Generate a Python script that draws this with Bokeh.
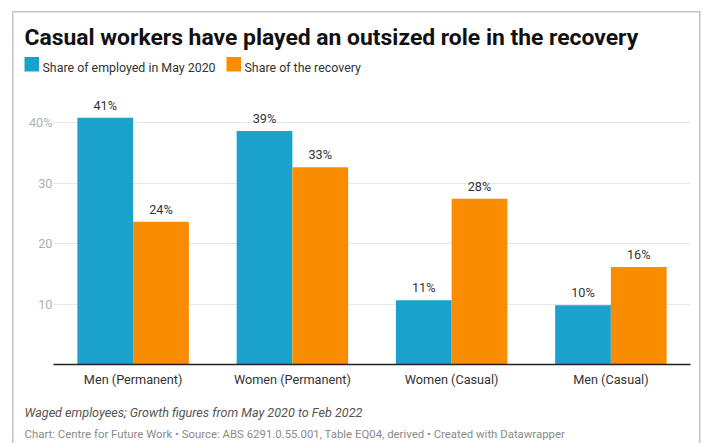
from bokeh.plotting import figure
from bokeh.layouts import column
from bokeh.models import ColumnDataSource, FactorRange, Range1d, FixedTicker, LabelSet
from bokeh.core.properties import value
from bokeh.transform import dodge
from bokeh.embed import file_html
from bokeh.resources import INLINE

# ---- data ----
categories = ["Men (Permanent)", "Women (Permanent)", "Women (Casual)", "Men (Casual)"]
employed_may_2020 = [40.8, 38.6, 10.6, 9.8]
share_of_recovery = [23.6, 32.6, 27.4, 16.1]
employed_labels = ["41%", "39%", "11%", "10%"]
recovery_labels = ["24%", "33%", "28%", "16%"]
series_names = ["Share of employed in May 2020", "Share of the recovery"]
y_ticks = [10, 20, 30, 40]
y_tick_labels = {10: "10", 20: "20", 30: "30", 40: "40%"}

title_text = "Casual workers have played an outsized role in the recovery"
note_text = "Waged employees; Growth figures from May 2020 to Feb 2022"
source_text = ("Chart: Centre for Future Work \u2022 Source: ABS 6291.0.55.001, Table EQ04, "
               "derived \u2022 Created with Datawrapper")

BLUE = "#1aa1cc"
ORANGE = "#f98c00"
FONT = "Roboto"
FRAME = "#c4c4c4"

W = 703
HEAD_H, MAIN_H, FOOT_H = 80, 315, 48
FL, FR = 53, 690          # frame left/right (px)
FT, FB = 10, 284          # frame top/bottom inside main figure (px)


def blank_fig(h):
    f = figure(width=W, height=h, x_range=Range1d(0, W), y_range=Range1d(h, 0),
               output_backend="svg", toolbar_location=None, min_border=0,
               x_axis_location=None, y_axis_location=None)
    f.grid.visible = False
    f.outline_line_color = None
    f.background_fill_color = None
    f.border_fill_color = None
    if "frame_align" in f.properties():
        f.frame_align = False
    return f


# ---- header: title + legend ----
head = blank_fig(HEAD_H)
head.text(x=[24], y=[37], text=[title_text], text_font=value(FONT),
          text_font_style="bold", text_font_size="22.9px", text_color="#111111",
          text_baseline="alphabetic")
leg_x = [24, 226]
head.quad(left=[leg_x[0], leg_x[1]], right=[leg_x[0] + 14.5, leg_x[1] + 14.5],
          top=[56.5, 56.5], bottom=[71, 71], fill_color=[BLUE, ORANGE], line_color=None)
head.text(x=[leg_x[0] + 18, leg_x[1] + 18], y=[66.5, 66.5], text=series_names,
          text_font=value(FONT), text_font_size="12.4px", text_color="#333333",
          text_baseline="alphabetic")

# ---- main chart ----
src = ColumnDataSource(dict(cat=categories, emp=employed_may_2020, rec=share_of_recovery,
                            emp_lab=employed_labels, rec_lab=recovery_labels))

p = figure(width=W, height=MAIN_H, x_range=FactorRange(*categories, range_padding=0),
           y_range=Range1d(0, (FB - FT) / 6.05), output_backend="svg",
           toolbar_location=None, min_border_left=FL, min_border_right=W - FR,
           min_border_top=FT, min_border_bottom=MAIN_H - FB)
p.outline_line_color = None
p.background_fill_color = None
p.border_fill_color = None

bw = 0.35
p.vbar(x=dodge("cat", -bw / 2, range=p.x_range), top="emp", width=bw, source=src,
       fill_color=BLUE, line_color=None)
p.vbar(x=dodge("cat", bw / 2, range=p.x_range), top="rec", width=bw, source=src,
       fill_color=ORANGE, line_color=None)

for col, lab, off in (("emp", "emp_lab", -bw / 2), ("rec", "rec_lab", bw / 2)):
    p.add_layout(LabelSet(x=dodge("cat", off, range=p.x_range), y=col, text=lab, source=src,
                          y_offset=5, text_align="center", text_baseline="bottom",
                          text_font=value(FONT), text_font_size=value("12.7px"),
                          text_color="#333333"))

p.yaxis.ticker = FixedTicker(ticks=y_ticks)
p.yaxis.major_label_overrides = y_tick_labels
p.yaxis.axis_line_color = None
p.yaxis.major_tick_line_color = None
p.yaxis.minor_tick_line_color = None
p.yaxis.major_tick_out = 0
p.yaxis.major_tick_in = 0
p.yaxis.major_label_text_color = "#b0b0b0"
p.yaxis.major_label_text_font = FONT
p.yaxis.major_label_text_font_size = "12.7px"
p.yaxis.major_label_standoff = 1

p.xaxis.axis_line_color = "#222222"
p.xaxis.axis_line_width = 1.5
p.xaxis.major_tick_line_color = None
p.xaxis.minor_tick_line_color = None
p.xaxis.major_tick_out = 0
p.xaxis.major_tick_in = 0
p.xaxis.major_label_text_color = "#333333"
p.xaxis.major_label_text_font = FONT
p.xaxis.major_label_text_font_size = "12.7px"
p.xaxis.major_label_standoff = 7

p.xgrid.grid_line_color = None
p.ygrid.grid_line_color = "#e6e6e6"
p.ygrid.ticker = FixedTicker(ticks=y_ticks)

# ---- footer: notes ----
foot = blank_fig(FOOT_H)
foot.text(x=[24], y=[16.5], text=[note_text], text_font=value(FONT),
          text_font_style="italic", text_font_size="12.6px", text_color="#555555",
          text_baseline="alphabetic")
foot.text(x=[24], y=[38], text=[source_text], text_font=value(FONT),
          text_font_size="11.4px", text_color="#8a8a8a", text_baseline="alphabetic")

g = "linear-gradient({0},{0})".format(FRAME)
layout = column(head, p, foot, spacing=0,
                styles={"background": (f"{g} 12px 11px / 1.5px 600px no-repeat, "
                                       f"{g} 12px 11px / 688px 1.5px no-repeat, "
                                       f"{g} 699px 11px / 1.5px 600px no-repeat, white")})

open("out.html", "w").write(file_html(layout, INLINE))
